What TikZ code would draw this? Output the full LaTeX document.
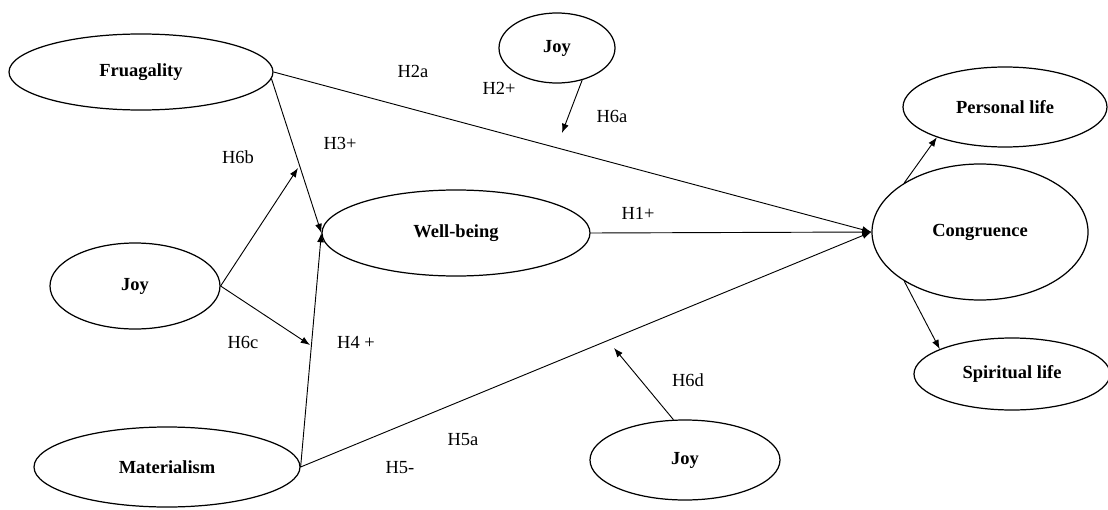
\documentclass[tikz,border=0pt]{standalone}
\usepackage{fontspec}
\setmainfont{Liberation Serif}
\usetikzlibrary{shapes.geometric,arrows.meta}

\begin{document}
\begin{tikzpicture}[>={Latex[length=6pt,width=4.5pt]},x=0.65pt,y=-0.65pt,
	construct/.style={ellipse,draw,line width=0.8pt,inner sep=0pt,font=\fontsize{12}{14}\selectfont\bfseries},
	path/.style={->,line width=0.6pt},
	hyp/.style={font=\fontsize{12}{14}\selectfont}]
	\useasboundingbox (0,0) rectangle (1108,509);
	% constructs
	\node[construct,minimum width=171.6pt,minimum height=49.4pt] (fru) at (141,72) {Fruagality};
	\node[construct,minimum width=75.4pt,minimum height=45.5pt] (joyA) at (557,48) {Joy};
	\node[construct,minimum width=110.5pt,minimum height=55.9pt] (joyB) at (135,286) {Joy};
	\node[construct,minimum width=172.9pt,minimum height=52pt] (mat) at (167,467) {Materialism};
	\node[construct,minimum width=123.5pt,minimum height=52pt] (joyD) at (685,460) {Joy};
	\node[construct,minimum width=174.2pt,minimum height=55.9pt] (well) at (456,233) {Well-being};
	\node[construct,minimum width=140.4pt,minimum height=88.4pt] (cong) at (980,232) {Congruence};
	\node[construct,minimum width=132.6pt,minimum height=52pt] (pers) at (1005,107) {Personal life};
	\node[construct,minimum width=127.4pt,minimum height=46.8pt] (spir) at (1012,374) {Spiritual life};
	% moderating ends
	\coordinate (mA) at (562,133);
	\coordinate (mB) at (298,168);
	\coordinate (mC) at (310,345);
	\coordinate (mD) at (614,348);
	% paths
	\draw[path] (fru.east) -- (cong.west);
	\draw[path] (fru.-3) -- (well.west);
	\draw[path] (mat.east) -- (well.west);
	\draw[path] (mat.east) -- (cong.west);
	\draw[path] (well.east) -- (cong.west);
	\draw[path] (joyA.-52) -- (mA);
	\draw[path] (joyB.east) -- (mB);
	\draw[path] (joyB.east) -- (mC);
	\draw[path] (joyD.106) -- (mD);
	\draw[path] (cong.147) -- (pers.204);
	\draw[path] (cong.213) -- (spir.161);
	% labels
	\node[hyp] (h2a) at (413,71) {H2a};
	\node[hyp] (h2p) at (499,88) {H2+};
	\node[hyp] (h6a) at (612,116) {H6a};
	\node[hyp] (h3p) at (340,143) {H3+};
	\node[hyp] (h6b) at (238,157) {H6b};
	\node[hyp] (h1p) at (638,213) {H1+};
	\node[hyp] (h6c) at (243,342) {H6c};
	\node[hyp] (h4p) at (356,342) {H4 +};
	\node[hyp] (h6d) at (688,380) {H6d};
	\node[hyp] (h5a) at (463,440) {H5a};
	\node[hyp] (h5m) at (400,468) {H5-};
\end{tikzpicture}
\end{document}
